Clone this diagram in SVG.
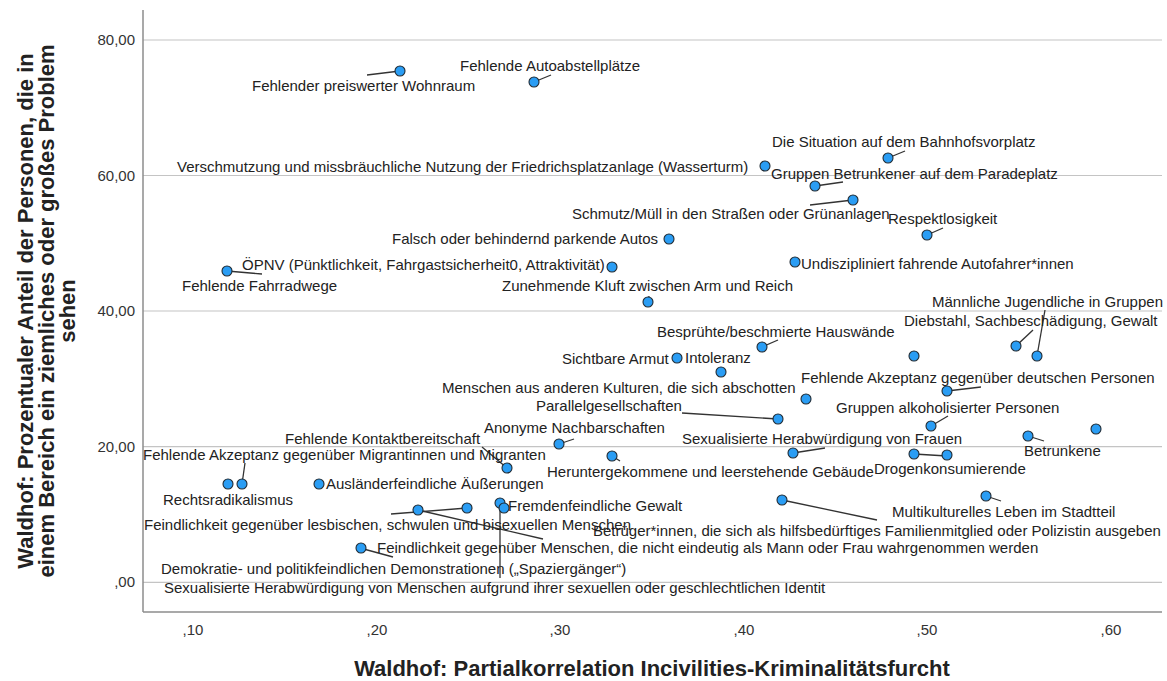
<svg xmlns="http://www.w3.org/2000/svg" width="1167" height="681" viewBox="0 0 1167 681">
<style>
.grid{stroke:#c4c4c4;stroke-width:1.2;fill:none}
.axis{stroke:#8c8c8c;stroke-width:1.5;fill:none}
.tick{font-family:"Liberation Sans",Arial,sans-serif;font-size:15px;fill:#333}
.lbl{font-family:"Liberation Sans",Arial,sans-serif;font-size:15px;fill:#222}
.title{font-family:"Liberation Sans",Arial,sans-serif;font-size:22px;font-weight:bold;fill:#222}
.lead{stroke:#333;stroke-width:1.3;fill:none}
.pt{fill:#2a9df4;stroke:#1f2a33;stroke-width:1.1}
</style>
<rect width="1167" height="681" fill="#fff"/>
<g id="gridlines">
<line class="grid" x1="143" y1="40" x2="1162" y2="40"/>
<line class="grid" x1="143" y1="175.5" x2="1162" y2="175.5"/>
<line class="grid" x1="143" y1="311" x2="1162" y2="311"/>
<line class="grid" x1="143" y1="446.7" x2="1162" y2="446.7"/>
<line class="grid" x1="143" y1="582.3" x2="1162" y2="582.3"/>
</g>
<g id="axes">
<line class="axis" x1="143" y1="10" x2="143" y2="612"/>
<line class="axis" x1="143" y1="612" x2="1162" y2="612"/>
<g class="tick" text-anchor="end">
<text x="135" y="45">80,00</text>
<text x="135" y="180.5">60,00</text>
<text x="135" y="316">40,00</text>
<text x="135" y="451.7">20,00</text>
<text x="135" y="587.3">,00</text>
</g>
<g class="tick" text-anchor="middle">
<text x="193" y="635">,10</text>
<text x="377" y="635">,20</text>
<text x="560" y="635">,30</text>
<text x="744" y="635">,40</text>
<text x="927" y="635">,50</text>
<text x="1111" y="635">,60</text>
</g>
<text class="title" x="652" y="676" text-anchor="middle">Waldhof: Partialkorrelation Incivilities-Kriminalitätsfurcht</text>
<g class="title" text-anchor="middle">
<text transform="translate(33,311) rotate(-90)">Waldhof: Prozentualer Anteil der Personen, die in</text>
<text transform="translate(54,311) rotate(-90)">einem Bereich ein ziemliches oder großes Problem</text>
<text transform="translate(75,311) rotate(-90)">sehen</text>
</g>
</g>
<g id="connectors">
<line class="lead" x1="400" y1="71" x2="367" y2="75"/>
<line class="lead" x1="534" y1="82" x2="551" y2="75"/>
<line class="lead" x1="888" y1="158" x2="905" y2="151"/>
<line class="lead" x1="815" y1="186" x2="843" y2="182"/>
<line class="lead" x1="853" y1="200" x2="810" y2="205"/>
<line class="lead" x1="927" y1="235" x2="943" y2="228"/>
<line class="lead" x1="227" y1="271" x2="262" y2="274"/>
<line class="lead" x1="648" y1="302" x2="649" y2="296"/>
<line class="lead" x1="1037" y1="356" x2="1045" y2="310"/>
<line class="lead" x1="1016" y1="346" x2="1033" y2="330"/>
<line class="lead" x1="762" y1="347" x2="778" y2="340"/>
<line class="lead" x1="778" y1="419" x2="682" y2="413"/>
<line class="lead" x1="947" y1="391" x2="981" y2="387"/>
<line class="lead" x1="931" y1="426" x2="948" y2="416"/>
<line class="lead" x1="1028" y1="436" x2="1044" y2="441"/>
<line class="lead" x1="793" y1="453" x2="825" y2="448"/>
<line class="lead" x1="914" y1="454" x2="947" y2="456"/>
<line class="lead" x1="612" y1="456" x2="620" y2="461"/>
<line class="lead" x1="559" y1="444" x2="574" y2="439"/>
<line class="lead" x1="507" y1="468" x2="482" y2="447"/>
<line class="lead" x1="242" y1="484" x2="245" y2="463"/>
<line class="lead" x1="391" y1="514" x2="467" y2="508"/>
<line class="lead" x1="418" y1="510" x2="543" y2="539"/>
<line class="lead" x1="500" y1="503" x2="500" y2="578"/>
<line class="lead" x1="360" y1="548" x2="393" y2="557"/>
<line class="lead" x1="782" y1="500" x2="877" y2="520"/>
<line class="lead" x1="986" y1="496" x2="1001" y2="501"/>
</g>
<g id="labels" class="lbl">
<text x="252" y="91">Fehlender preiswerter Wohnraum</text>
<text x="460" y="71">Fehlende Autoabstellplätze</text>
<text x="177" y="172">Verschmutzung und missbräuchliche Nutzung der Friedrichsplatzanlage (Wasserturm)</text>
<text x="772" y="147">Die Situation auf dem Bahnhofsvorplatz</text>
<text x="771" y="179">Gruppen Betrunkener auf dem Paradeplatz</text>
<text x="572" y="219">Schmutz/Müll in den Straßen oder Grünanlagen</text>
<text x="888" y="224">Respektlosigkeit</text>
<text x="801" y="269">Undiszipliniert fahrende Autofahrer*innen</text>
<text x="392" y="244">Falsch oder behindernd parkende Autos</text>
<text x="242" y="270">ÖPNV (Pünktlichkeit, Fahrgastsicherheit0, Attraktivität)</text>
<text x="182" y="291">Fehlende Fahrradwege</text>
<text x="502" y="291">Zunehmende Kluft zwischen Arm und Reich</text>
<text x="932" y="307">Männliche Jugendliche in Gruppen</text>
<text x="904" y="326">Diebstahl, Sachbeschädigung, Gewalt</text>
<text x="657" y="337">Besprühte/beschmierte Hauswände</text>
<text x="562" y="364">Sichtbare Armut</text>
<text x="685" y="363">Intoleranz</text>
<text x="442" y="393">Menschen aus anderen Kulturen, die sich abschotten</text>
<text x="536" y="411">Parallelgesellschaften</text>
<text x="801" y="383">Fehlende Akzeptanz gegenüber deutschen Personen</text>
<text x="836" y="413">Gruppen alkoholisierter Personen</text>
<text x="1024" y="456">Betrunkene</text>
<text x="682" y="444">Sexualisierte Herabwürdigung von Frauen</text>
<text x="874" y="474">Drogenkonsumierende</text>
<text x="547" y="477">Heruntergekommene und leerstehende Gebäude</text>
<text x="484" y="433">Anonyme Nachbarschaften</text>
<text x="285" y="444">Fehlende Kontaktbereitschaft</text>
<text x="143" y="460">Fehlende Akzeptanz gegenüber Migrantinnen und Migranten</text>
<text x="163" y="505">Rechtsradikalismus</text>
<text x="326" y="489">Ausländerfeindliche Äußerungen</text>
<text x="144" y="530">Feindlichkeit gegenüber lesbischen, schwulen und bisexuellen Menschen</text>
<text x="508" y="511">Fremdenfeindliche Gewalt</text>
<text x="593" y="536">Betrüger*innen, die sich als hilfsbedürftiges Familienmitglied oder Polizistin ausgeben</text>
<text x="377" y="553">Feindlichkeit gegenüber Menschen, die nicht eindeutig als Mann oder Frau wahrgenommen werden</text>
<text x="161" y="574">Demokratie- und politikfeindlichen Demonstrationen („Spaziergänger“)</text>
<text x="164" y="593">Sexualisierte Herabwürdigung von Menschen aufgrund ihrer sexuellen oder geschlechtlichen Identit</text>
<text x="892" y="517">Multikulturelles Leben im Stadtteil</text>
</g>
<g id="points">
<circle class="pt" cx="400" cy="71" r="5"/>
<circle class="pt" cx="534" cy="82" r="5"/>
<circle class="pt" cx="765" cy="166" r="5"/>
<circle class="pt" cx="888" cy="158" r="5"/>
<circle class="pt" cx="815" cy="186" r="5"/>
<circle class="pt" cx="853" cy="200" r="5"/>
<circle class="pt" cx="927" cy="235" r="5"/>
<circle class="pt" cx="669" cy="239" r="5"/>
<circle class="pt" cx="612" cy="267" r="5"/>
<circle class="pt" cx="227" cy="271" r="5"/>
<circle class="pt" cx="795" cy="262" r="5"/>
<circle class="pt" cx="648" cy="302" r="5"/>
<circle class="pt" cx="762" cy="347" r="5"/>
<circle class="pt" cx="677" cy="358" r="5"/>
<circle class="pt" cx="721" cy="372" r="5"/>
<circle class="pt" cx="914" cy="356" r="5"/>
<circle class="pt" cx="1016" cy="346" r="5"/>
<circle class="pt" cx="1037" cy="356" r="5"/>
<circle class="pt" cx="806" cy="399" r="5"/>
<circle class="pt" cx="778" cy="419" r="5"/>
<circle class="pt" cx="947" cy="391" r="5"/>
<circle class="pt" cx="931" cy="426" r="5"/>
<circle class="pt" cx="1028" cy="436" r="5"/>
<circle class="pt" cx="1096" cy="429" r="5"/>
<circle class="pt" cx="559" cy="444" r="5"/>
<circle class="pt" cx="612" cy="456" r="5"/>
<circle class="pt" cx="793" cy="453" r="5"/>
<circle class="pt" cx="914" cy="454" r="5"/>
<circle class="pt" cx="947" cy="455" r="5"/>
<circle class="pt" cx="507" cy="468" r="5"/>
<circle class="pt" cx="228" cy="484" r="5"/>
<circle class="pt" cx="242" cy="484" r="5"/>
<circle class="pt" cx="319" cy="484" r="5"/>
<circle class="pt" cx="418" cy="510" r="5"/>
<circle class="pt" cx="467" cy="508" r="5"/>
<circle class="pt" cx="500" cy="503" r="5"/>
<circle class="pt" cx="504" cy="508" r="5"/>
<circle class="pt" cx="782" cy="500" r="5"/>
<circle class="pt" cx="986" cy="496" r="5"/>
<circle class="pt" cx="361" cy="548" r="5"/>
</g>
</svg>
